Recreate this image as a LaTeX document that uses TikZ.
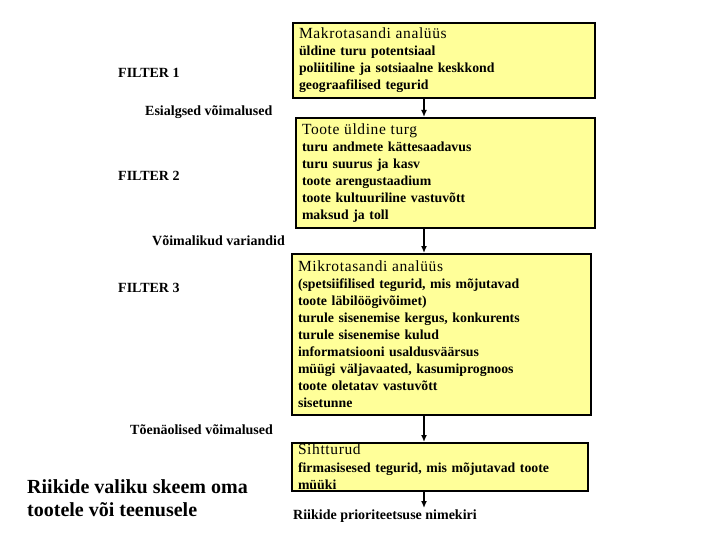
\documentclass[tikz,border=0pt]{standalone}
\usepackage{fontspec}
\setmainfont{Liberation Serif}
\newfontfamily\titlefont[LetterSpace=4]{Liberation Serif}
\usetikzlibrary{arrows.meta}
\definecolor{boxyellow}{HTML}{FFFF99}
\tikzset{
  box/.style={draw=black, line width=2pt, fill=boxyellow, anchor=north west,
    align=left, inner xsep=6pt, inner ysep=0pt,
    font=\bfseries\fontsize{13.8}{17}\selectfont},
  lbl/.style={font=\bfseries\fontsize{14}{16}\selectfont, inner sep=0pt},
  flow/.style={line width=1.5pt, -{Latex[length=7pt,width=6pt]}},
}
\newcommand{\btitle}[1]{{\mdseries\titlefont\fontsize{15.5}{17}\selectfont #1}}
\begin{document}
\begin{tikzpicture}[x=1pt,y=-1pt]
\useasboundingbox (0,0) rectangle (720,540);
\node[box, text width=290pt, minimum height=75pt] (b1) at (292,22)
  {\btitle{Makrotasandi analüüs}\\
   üldine turu potentsiaal\\
   poliitiline ja sotsiaalne keskkond\\
   geograafilised tegurid};
\node[box, text width=287pt, minimum height=110pt] (b2) at (295,117)
  {\btitle{Toote üldine turg}\\
   turu andmete kättesaadavus\\
   turu suurus ja kasv\\
   toote arengustaadium\\
   toote kultuuriline vastuvõtt\\
   maksud ja toll};
\node[box, text width=287pt, minimum height=161pt] (b3) at (291,253)
  {\btitle{Mikrotasandi analüüs}\\
   (spetsiifilised tegurid, mis mõjutavad\\
   toote läbilöögivõimet)\\
   turule sisenemise kergus, konkurents\\
   turule sisenemise kulud\\
   informatsiooni usaldusväärsus\\
   müügi väljavaated, kasumiprognoos\\
   toote oletatav vastuvõtt\\
   sisetunne};
\node[box, text width=284pt, minimum height=48pt] (b4) at (291,442)
  {\btitle{Sihtturud}\\[1pt]
   firmasisesed tegurid, mis mõjutavad toote\\
   müüki};
\node[lbl, anchor=west] (res) at (293,516) {Riikide prioriteetsuse nimekiri};
\coordinate (ax) at (424,0);
\coordinate (end) at (424,508);
\draw[flow] (b1.south -| ax) -- (b2.north -| ax);
\draw[flow] (b2.south -| ax) -- (b3.north -| ax);
\draw[flow] (b3.south -| ax) -- (b4.north -| ax);
\draw[flow] (b4.south -| ax) -- (end);
\node[lbl, anchor=west] (f1) at (118,73) {FILTER 1};
\node[lbl, anchor=west] (f2) at (118,176) {FILTER 2};
\node[lbl, anchor=west] (f3) at (118,288) {FILTER 3};
\node[lbl, anchor=west] (e1) at (145,112) {Esialgsed võimalused};
\node[lbl, anchor=west] (e2) at (152,241) {Võimalikud variandid};
\node[lbl, anchor=west] (e3) at (130,430) {Tõenäolised võimalused};
\node[anchor=north west, align=left, inner sep=0pt,
  font=\bfseries\fontsize{20}{23}\selectfont] (ttl) at (27,479)
  {Riikide valiku skeem oma\\tootele või teenusele};
\end{tikzpicture}
\end{document}
